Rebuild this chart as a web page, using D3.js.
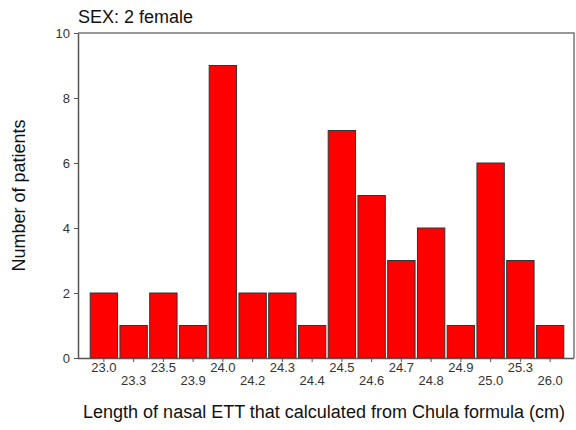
<!DOCTYPE html>
<html lang="en">
<head>
  <meta charset="UTF-8" />
  <title>SEX: 2 female</title>
  <style>
    body { margin: 0; background: #fff; }
    svg { display: block; font-family: "Liberation Sans", Arial, sans-serif; }
    .bar { fill: #ff0000; stroke: #333; stroke-width: 1px; }
    .tick text { fill: #333; font-size: 13px; }
    .tick line { stroke: #555; }
    .domain { stroke: #555; stroke-width: 1.5px; }
  </style>
</head>
<body>
  <svg width="576" height="430"></svg>
  <script src="https://d3js.org/d3.v7.min.js"></script>
  <script>
    // category labels (cm) and patient counts
    const lengths = ["23.0", "23.3", "23.5", "23.9", "24.0", "24.2", "24.3", "24.4",
                     "24.5", "24.6", "24.7", "24.8", "24.9", "25.0", "25.3", "26.0"];
    const counts = [2, 1, 2, 1, 9, 2, 2, 1, 7, 5, 3, 4, 1, 6, 3, 1];
    const yTicks = [0, 2, 4, 6, 8, 10];

    const svg = d3.select("svg");
    const margin = { top: 33, right: 2, bottom: 72, left: 78 };
    const width = 576 - margin.left - margin.right;
    const height = 430 - margin.top - margin.bottom;

    const g = svg.append("g").attr("transform", `translate(${margin.left},${margin.top})`);

    const x = d3.scaleBand()
      .domain(lengths)
      .range([11, 487])
      .paddingInner(0.08)
      .paddingOuter(0.04);

    const y = d3.scaleLinear().domain([0, 10]).range([height, 0]);

    // frame (top and right)
    g.append("path")
      .attr("d", `M0,0H${width}V${height}`)
      .attr("fill", "none")
      .attr("stroke", "#777")
      .attr("stroke-width", 1.5);

    g.selectAll(".bar")
      .data(counts)
      .enter().append("rect")
      .attr("class", "bar")
      .attr("x", (d, i) => x(lengths[i]))
      .attr("y", d => y(d))
      .attr("width", x.bandwidth())
      .attr("height", d => y(0) - y(d));

    const xAxis = g.append("g")
      .attr("transform", `translate(0,${height})`)
      .call(d3.axisBottom(x).tickSize(4).tickSizeOuter(0));
    xAxis.select(".domain").attr("d", `M0,0.5H${width}`);
    xAxis.selectAll(".tick text")
      .attr("dy", (d, i) => i % 2 === 0 ? "0.71em" : "1.72em")
      .attr("y", 5);

    g.append("g")
      .call(d3.axisLeft(y).tickValues(yTicks).tickSize(4).tickSizeOuter(0))
      .selectAll(".tick text").attr("x", -8);

    svg.append("text")
      .attr("x", 78)
      .attr("y", 23)
      .attr("font-size", 18)
      .attr("fill", "#111")
      .text("SEX: 2 female");

    svg.append("text")
      .attr("transform", `translate(25,${margin.top + height / 2}) rotate(-90)`)
      .attr("text-anchor", "middle")
      .attr("font-size", 18)
      .attr("fill", "#111")
      .text("Number of patients");

    svg.append("text")
      .attr("x", 324)
      .attr("y", 418)
      .attr("text-anchor", "middle")
      .attr("font-size", 18)
      .attr("fill", "#111")
      .text("Length of nasal ETT that calculated from Chula formula (cm)");
  </script>
</body>
</html>
